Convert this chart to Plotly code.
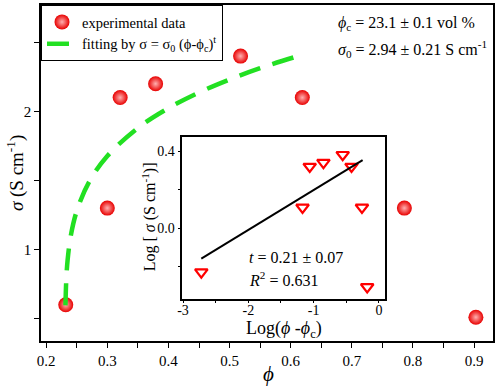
import plotly.graph_objects as go

# main data
phi = [0.232, 0.300, 0.321, 0.379, 0.518, 0.619, 0.786, 0.903]
sigma = [0.60, 1.30, 2.10, 2.20, 2.40, 2.10, 1.30, 0.51]

# fitting curve points
fit_phi = [0.2315, 0.233, 0.235, 0.24, 0.25, 0.27, 0.30, 0.35, 0.40, 0.45, 0.50, 0.55, 0.62]
fit_sigma = [0.596, 0.797, 0.922, 1.094, 1.279, 1.488, 1.677, 1.880, 2.024, 2.137, 2.231, 2.313, 2.411]

# inset data
log_dphi = [-2.72, -1.06, -0.85, -0.555, -0.42, -1.17, -0.26, -0.18]
log_sigma = [-0.227, 0.32, 0.34, 0.381, 0.32, 0.108, 0.108, -0.304]
line_x = [-2.72, -0.25]
line_y = [-0.157, 0.353]

FONT = "Liberation Serif"

fig = go.Figure()
fig.add_trace(go.Scatter(
    x=phi, y=sigma, mode="markers", name="experimental data",
    marker=dict(size=15, color="#e80000",
                gradient=dict(type="radial", color="#ffb0b0"),
                line=dict(width=0)),
))
fig.add_trace(go.Scatter(
    x=fit_phi, y=fit_sigma, mode="lines",
    name="fitting by σ = σ<sub>0</sub> (ϕ-ϕ<sub>c</sub>)<sup>t</sup>",
    line=dict(color="#22e022", width=4.5, dash="22px,13px", shape="spline"),
))
fig.add_trace(go.Scatter(
    x=log_dphi, y=log_sigma, mode="markers", xaxis="x2", yaxis="y2",
    showlegend=False,
    marker=dict(symbol="triangle-down-open", size=11, color="#ff0000",
                line=dict(width=2.2, color="#ff0000")),
))
fig.add_trace(go.Scatter(
    x=line_x, y=line_y, mode="lines", xaxis="x2", yaxis="y2",
    showlegend=False, line=dict(color="black", width=2),
))

axis_common = dict(showgrid=False, zeroline=False, showline=True, linecolor="black",
                   linewidth=1.5, mirror=True, ticks="outside", ticklen=5,
                   tickcolor="black", tickwidth=1.2,
                   tickfont=dict(family=FONT, size=15, color="black"))
inset_common = {**axis_common, "ticklen": 3,
                "tickfont": dict(family=FONT, size=14, color="black")}

L, T, W, H = 41, 3, 454, 338

fig.update_layout(
    width=498, height=386,
    margin=dict(l=L, r=498 - L - W, t=T, b=386 - T - H),
    plot_bgcolor="white", paper_bgcolor="white",
    font=dict(family=FONT, color="black"),
    showlegend=True,
    legend=dict(x=0, y=1, xanchor="left", yanchor="top",
                bordercolor="black", borderwidth=1, bgcolor="white",
                font=dict(family=FONT, size=14.5, color="black"),
                tracegroupgap=0, itemwidth=30),
    xaxis=dict(range=[0.1915, 0.931], tickvals=[0.2, 0.3, 0.4, 0.5, 0.6, 0.7, 0.8, 0.9],
               ticktext=["0.2", "0.3", "0.4", "0.5", "0.6", "0.7", "0.8", "0.9"],
               minor=dict(tickvals=[0.25, 0.35, 0.45, 0.55, 0.65, 0.75, 0.85],
                          ticks="outside", ticklen=5, tickcolor="black", tickwidth=1.2),
               **axis_common),
    yaxis=dict(range=[0.338, 2.77], tickvals=[1, 2], ticktext=["1", "2"],
               minor=dict(tickvals=[0.5, 1.5, 2.5], ticks="outside", ticklen=5,
                          tickcolor="black", tickwidth=1.2),
               **axis_common),
    xaxis2=dict(domain=[(183 - L) / W, (387 - L) / W], anchor="y2", range=[-3.01, 0.1],
                tickvals=[-3, -2, -1, 0], ticktext=["-3", "-2", "-1", "0"],
                ticklabelstandoff=-5,
                minor=dict(tickvals=[-2.5, -1.5, -0.5], ticks="outside", ticklen=3,
                           tickcolor="black", tickwidth=1.2),
                **inset_common),
    yaxis2=dict(domain=[(T + H - 298.3) / H, (T + H - 136) / H], anchor="x2",
                range=[-0.364, 0.472],
                tickvals=[0.0, 0.4], ticktext=["0.0", "0.4"],
                minor=dict(tickvals=[-0.2, 0.2], ticks="outside", ticklen=3,
                           tickcolor="black", tickwidth=1.2),
                **inset_common),
)

# annotation positions given in page pixels (converted to paper coords below)
ann = [
    dict(text="<i>σ</i> (S cm<sup>-1</sup>)", x=15, y=172, textangle=-90,
         font=dict(family=FONT, size=19), xanchor="center", yanchor="middle"),
    dict(text="<i>ϕ</i>", x=270, y=374,
         font=dict(family=FONT, size=21), xanchor="center", yanchor="middle"),
    dict(text="<i>ϕ</i><sub>c</sub> = 23.1 ± 0.1 vol %", x=337, y=22,
         font=dict(family=FONT, size=16), xanchor="left", yanchor="middle"),
    dict(text="<i>σ</i><sub>0</sub> = 2.94 ± 0.21 S cm<sup>-1</sup>", x=337, y=47,
         font=dict(family=FONT, size=16), xanchor="left", yanchor="middle"),
    dict(text="Log [ <i>σ</i> (S cm<sup>-1</sup>)]", x=150, y=216, textangle=-90,
         font=dict(family=FONT, size=16), xanchor="center", yanchor="middle"),
    dict(text="Log(<i>ϕ</i> -<i>ϕ</i><sub>c</sub>)", x=285, y=329,
         font=dict(family=FONT, size=18), xanchor="center", yanchor="middle"),
    dict(text="<i>t</i> = 0.21 ± 0.07", x=248, y=257,
         font=dict(family=FONT, size=16), xanchor="left", yanchor="middle"),
    dict(text="<i>R</i><sup>2</sup> = 0.631", x=248, y=279,
         font=dict(family=FONT, size=16), xanchor="left", yanchor="middle"),
]
for a in ann:
    a["x"] = (a["x"] - L) / W
    a["y"] = (T + H - a["y"]) / H
    a["xref"] = "paper"
    a["yref"] = "paper"
    a["showarrow"] = False
fig.update_layout(annotations=ann)

fig.write_html("out.html", config={"displayModeBar": False},
               post_script="document.body.style.margin='0';document.body.style.padding='0';")
